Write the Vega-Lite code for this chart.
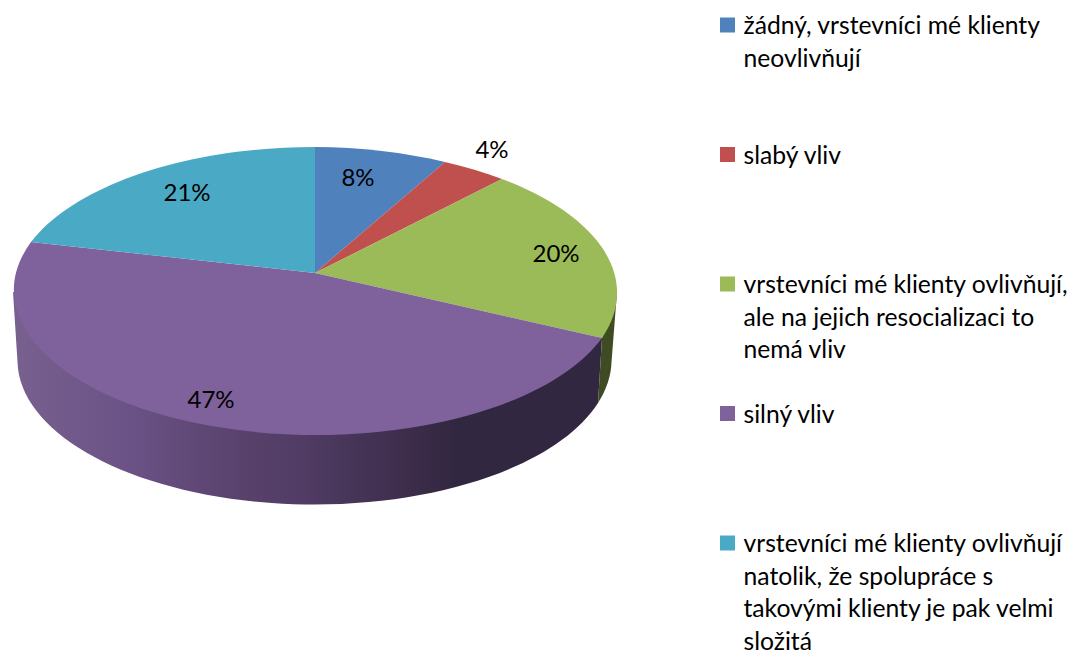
{
"$schema":"https://vega.github.io/schema/vega-lite/v6.json",
"width":1078,"height":651,"padding":0,"autosize":{"type":"none"},
"background":"white",
"config":{"view":{"stroke":null},"font":"Lato"},
"data":{"values":[
{"kategorie":"žádný, vrstevníci mé klienty neovlivňují","podil":0.08},
{"kategorie":"slabý vliv","podil":0.04},
{"kategorie":"vrstevníci mé klienty ovlivňují, ale na jejich resocializaci to nemá vliv","podil":0.20},
{"kategorie":"silný vliv","podil":0.47},
{"kategorie":"vrstevníci mé klienty ovlivňují natolik, že spolupráce s takovými klienty je pak velmi složitá","podil":0.21}
]},
"resolve":{"scale":{"y":"independent","x":"independent"}},
"layer":[
{"transform":[{"filter":"datum.podil==0.47"}],
 "mark":{"type":"point","filled":true,"opacity":1,"size":4,
  "shape":"M-526 -33.5L63 12.5L59 77.5A297 144.5 0 0 1 -521.5 36.5Z",
  "fill":{"gradient":"linear","x1":0,"y1":0,"x2":1,"y2":0,"stops":[
   {"offset":0,"color":"#78608f"},{"offset":0.2,"color":"#6a5286"},{"offset":0.35,"color":"#5c4570"},
   {"offset":0.5,"color":"#4f3b63"},{"offset":0.68,"color":"#3c2c49"},{"offset":0.75,"color":"#322741"},{"offset":1,"color":"#322741"}]}}},
{"transform":[{"filter":"datum.podil==0.20"}],
 "mark":{"type":"point","filled":true,"opacity":1,"size":4,"fill":"#3f4b22",
  "shape":"M63 12.5L78 -33.5L72.5 36.5A297 144.5 0 0 1 59 77.5Z"}},
{"mark":{"type":"point","filled":true,"opacity":1,"size":4},
 "encoding":{
  "shape":{"field":"kategorie","type":"nominal","legend":null,
   "scale":{"domain":["žádný, vrstevníci mé klienty neovlivňují","slabý vliv","vrstevníci mé klienty ovlivňují, ale na jejich resocializaci to nemá vliv","silný vliv","vrstevníci mé klienty ovlivňují natolik, že spolupráce s takovými klienty je pak velmi složitá"],
   "range":[
    "M-224 -52.5L-224 -178.5A302.5 145 0 0 1 -94 -163.5Z",
    "M-224 -52.5L-94 -163.5A302.5 145 0 0 1 -37 -146.5Z",
    "M-224 -52.5L-37 -146.5A302.5 145 0 0 1 63 12.5Z",
    "M-224 -52.5L63 12.5A302.5 145 0 0 1 -508 -83.5Z",
    "M-224 -52.5L-508 -83.5A302.5 145 0 0 1 -224 -178.5Z"]}},
  "color":{"field":"kategorie","type":"nominal","legend":null,
   "scale":{"domain":["žádný, vrstevníci mé klienty neovlivňují","slabý vliv","vrstevníci mé klienty ovlivňují, ale na jejich resocializaci to nemá vliv","silný vliv","vrstevníci mé klienty ovlivňují natolik, že spolupráce s takovými klienty je pak velmi složitá"],
    "range":["#4f81bd","#c0504d","#9bbb59","#7f619b","#4aaac5"]}}
 }},
{"mark":{"type":"text","font":"Lato","fontSize":24,"color":"#000000","baseline":"middle","align":"center"},
 "encoding":{
  "text":{"field":"podil","type":"quantitative","format":".0%"},
  "x":{"field":"podil","type":"quantitative","axis":null,"scale":{"domain":[0.04,0.08,0.20,0.21,0.47],"range":[492,358,556,187,211]}},
  "y":{"field":"podil","type":"quantitative","axis":null,"scale":{"domain":[0.04,0.08,0.20,0.21,0.47],"range":[151,179,255,194,401]}}
 }},
{"mark":{"type":"square","filled":true,"opacity":1,"size":225,"xOffset":188.5},
 "encoding":{
  "y":{"field":"kategorie","type":"nominal","axis":null,"sort":null,
   "scale":{"type":"point","padding":0,"domain":["žádný, vrstevníci mé klienty neovlivňují","slabý vliv","vrstevníci mé klienty ovlivňují, ale na jejich resocializaci to nemá vliv","silný vliv","vrstevníci mé klienty ovlivňují natolik, že spolupráce s takovými klienty je pak velmi složitá"],"range":[25,543]}},
  "color":{"field":"kategorie","type":"nominal","legend":null}
 }},
{"transform":[{"calculate":"replace(replace(replace(replace(replace(replace(datum.kategorie,'klienty neovlivňují','klienty|neovlivňují'),'ovlivňují, ale','ovlivňují,|ale'),'to nemá','to|nemá'),'ovlivňují natolik','ovlivňují|natolik'),'s takovými','s|takovými'),'velmi složitá','velmi|složitá')","as":"popisek"}],
 "mark":{"type":"text","font":"Lato","fontSize":24.7,"color":"#000000","align":"left","baseline":"top","lineBreak":"|","lineHeight":32.7,"dx":204.5,"dy":-11},
 "encoding":{
  "text":{"field":"popisek","type":"nominal"},
  "y":{"field":"kategorie","type":"nominal","axis":null,"sort":null,
   "scale":{"type":"point","padding":0,"domain":["žádný, vrstevníci mé klienty neovlivňují","slabý vliv","vrstevníci mé klienty ovlivňují, ale na jejich resocializaci to nemá vliv","silný vliv","vrstevníci mé klienty ovlivňují natolik, že spolupráce s takovými klienty je pak velmi složitá"],"range":[25,543]}}
 }}
]
}
